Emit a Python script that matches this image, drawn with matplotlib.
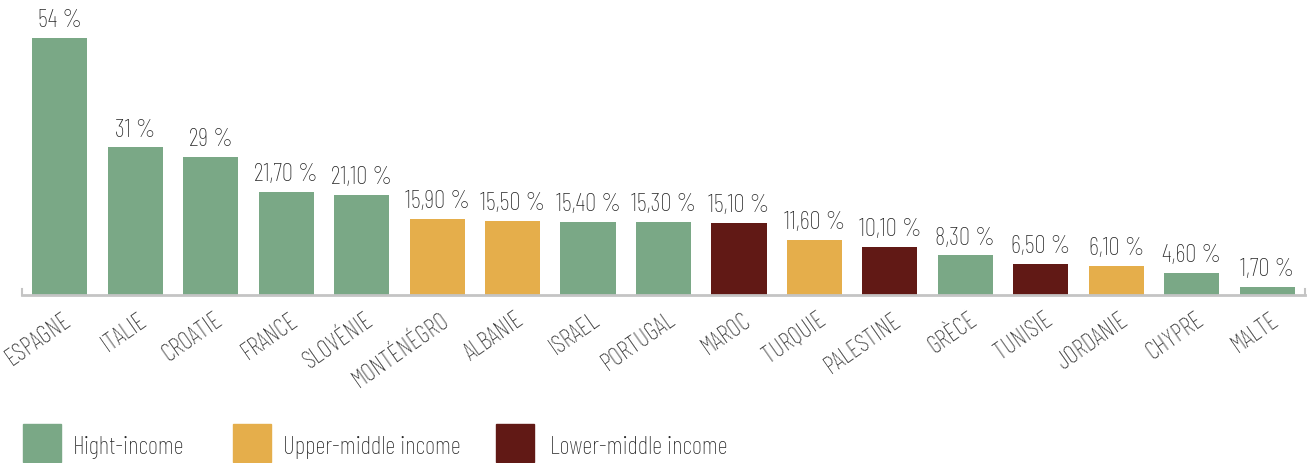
import matplotlib
matplotlib.use("Agg")
import matplotlib.pyplot as plt
from matplotlib import font_manager
from matplotlib.patches import Rectangle
from matplotlib.transforms import ScaledTranslation

countries = ["ESPAGNE", "ITALIE", "CROATIE", "FRANCE", "SLOVÉNIE", "MONTÉNÉGRO",
             "ALBANIE", "ISRAEL", "PORTUGAL", "MAROC", "TURQUIE", "PALESTINE",
             "GRÈCE", "TUNISIE", "JORDANIE", "CHYPRE", "MALTE"]
values = [54, 31, 29, 21.7, 21.1, 15.9, 15.5, 15.4, 15.3, 15.1, 11.6, 10.1,
          8.3, 6.5, 6.1, 4.6, 1.7]
income = ["H", "H", "H", "H", "H", "U", "U", "H", "H", "L", "U", "L",
          "H", "L", "U", "H", "H"]
legend_keys = ["H", "U", "L"]
legend_labels = ["Hight-income", "Upper-middle income", "Lower-middle income"]
colors = {"H": "#7aa886", "U": "#e5ae4b", "L": "#611915"}

# font choice: a condensed face if one is installed, else DejaVu Sans
names = {f.name for f in font_manager.fontManager.ttflist}
family, fs, weight = "DejaVu Sans", 12, "normal"
for cand, size in [("Barlow Condensed", 18), ("Roboto Condensed", 16),
                   ("Fira Sans Extra Condensed", 16), ("Fira Sans Condensed", 15)]:
    if cand in names:
        family, fs, weight = cand, size, "light"
        break
plt.rcParams["font.family"] = [family, "DejaVu Sans"]
plt.rcParams["font.weight"] = weight

TXT = "#262626"
W, H = 1314, 464
fig = plt.figure(figsize=(W / 100, H / 100), dpi=100)
ax = fig.add_axes([22 / W, 168 / H, (1305 - 22) / W, (296 - 39) / H])

x = list(range(len(countries)))
ax.bar(x, values, width=0.73, color=[colors[k] for k in income], zorder=2)
ax.set_xlim(-0.5, len(countries) - 0.5)
ax.set_ylim(0, 54)


def fmt(v):
    if float(v).is_integer():
        return f"{int(v)} %"
    return f"{v:.2f}".replace(".", ",") + " %"


for xi, v in zip(x, values):
    ax.annotate(fmt(v), (xi, v), xytext=(0, 5), textcoords="offset points",
                ha="center", va="bottom", fontsize=fs, color=TXT, clip_on=False)

ax.set_xticks(x)
ax.set_xticklabels(countries, rotation=35, ha="right", fontsize=fs, color=TXT)
ax.tick_params(axis="x", length=0, pad=9)
shift = ScaledTranslation(0.16, 0, fig.dpi_scale_trans)
for lab in ax.get_xticklabels():
    lab.set_transform(lab.get_transform() + shift)
ax.set_yticks([])

ax.spines["top"].set_visible(False)
for s in ["left", "right"]:
    ax.spines[s].set_bounds(0, 1.3)
    ax.spines[s].set_color("#c4c4c4")
    ax.spines[s].set_linewidth(1.5)
ax.spines["bottom"].set_color("#c4c4c4")
ax.spines["bottom"].set_linewidth(2)

# legend
sq_x = [23, 233, 496]
txt_x = [73, 283, 550]
for px, tx, key, lab in zip(sq_x, txt_x, legend_keys, legend_labels):
    fig.patches.append(Rectangle((px / W, 1 / H), 38 / W, 38 / H,
                                 transform=fig.transFigure, color=colors[key]))
    fig.text(tx / W, 10 / H, lab, ha="left", va="baseline",
             fontsize=fs, color=TXT)

fig.savefig("out.png", dpi=100)
